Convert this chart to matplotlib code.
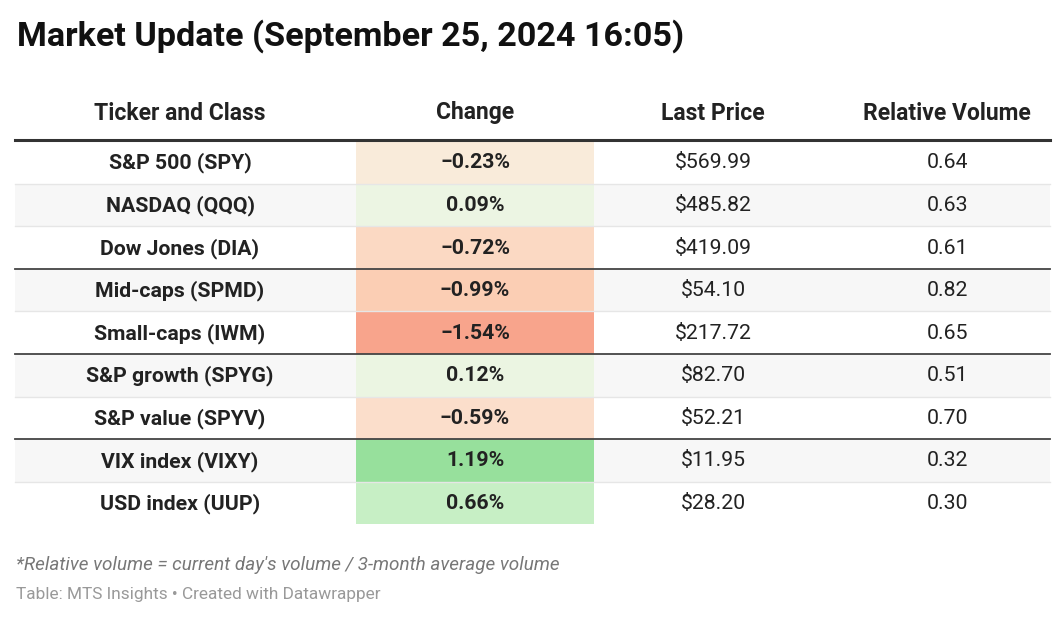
import matplotlib
matplotlib.use("Agg")
import matplotlib.pyplot as plt
from matplotlib.patches import Rectangle
from matplotlib.colors import LinearSegmentedColormap, TwoSlopeNorm

plt.rcParams['font.family'] = ['Roboto', 'DejaVu Sans']

title = "Market Update (September 25, 2024 16:05)"
headers = ["Ticker and Class", "Change", "Last Price", "Relative Volume"]
tickers = ["S&P 500 (SPY)", "NASDAQ (QQQ)", "Dow Jones (DIA)", "Mid-caps (SPMD)",
           "Small-caps (IWM)", "S&P growth (SPYG)", "S&P value (SPYV)",
           "VIX index (VIXY)", "USD index (UUP)"]
change = [-0.23, 0.09, -0.72, -0.99, -1.54, 0.12, -0.59, 1.19, 0.66]
last_price = [569.99, 485.82, 419.09, 54.10, 217.72, 82.70, 52.21, 11.95, 28.20]
rel_volume = [0.64, 0.63, 0.61, 0.82, 0.65, 0.51, 0.70, 0.32, 0.30]
group_ends = [3, 5, 7]
footnote = "*Relative volume = current day's volume / 3-month average volume"
source = "Table: MTS Insights \u2022 Created with Datawrapper"

W, H = 1064, 639
fig = plt.figure(figsize=(W / 100, H / 100), dpi=100)
ax = fig.add_axes([0, 0, 1, 1])
ax.set_xlim(0, W)
ax.set_ylim(H, 0)
ax.axis("off")

cmap = LinearSegmentedColormap.from_list(
    "chg",
    [(0.0, "#f8a48c"), (0.18, "#fbcfb5"), (0.27, "#fbd9c4"), (0.31, "#fbdfcc"),
     (0.425, "#f9ebda"), (0.5, "#f3f2e4"), (0.54, "#ecf5e3"), (0.78, "#c6efc5"),
     (1.0, "#97e09c")])
norm = TwoSlopeNorm(vcenter=0.0, vmin=min(change), vmax=max(change))

left, right = 15, 1050
col_x = [180, 475, 713, 947]
chg_l, chg_r = 356, 594
top = 141
rh = 42.6

ax.text(17, 36, title, fontsize=24.6, fontweight="bold", color="#111111",
        ha="left", va="center")

for x, h in zip(col_x, headers):
    ax.text(x, 119.5, h, fontsize=16.5, fontweight="bold", color="#222222",
            ha="center", va="baseline")

for i in range(len(tickers)):
    y0 = top + i * rh
    yc = y0 + rh / 2 - 1.5
    if i % 2 == 1:
        ax.add_patch(Rectangle((left, y0), right - left, rh, facecolor="#f7f7f7",
                               edgecolor="none", zorder=0))
    ax.add_patch(Rectangle((chg_l, y0), chg_r - chg_l, rh,
                           facecolor=cmap(norm(change[i])), edgecolor="none", zorder=1))
    if (i + 1) in group_ends:
        ax.plot([left, right], [y0 + rh, y0 + rh], color="#444444", lw=1.3, zorder=3)
    elif i < len(tickers) - 1:
        ax.plot([left, right], [y0 + rh, y0 + rh], color="#e6e6e6", lw=1.0, zorder=2)
    ax.text(col_x[0], yc, tickers[i], fontsize=15.3, fontweight="bold", color="#222222",
            ha="center", va="center_baseline", zorder=4)
    c = change[i]
    ctxt = ("\u2212" if c < 0 else "") + f"{abs(c):.2f}%"
    ax.text(col_x[1], yc, ctxt, fontsize=15.3, fontweight="bold", color="#222222",
            ha="center", va="center_baseline", zorder=4)
    ax.text(col_x[2], yc, f"${last_price[i]:,.2f}", fontsize=15.3, color="#222222",
            ha="center", va="center_baseline", zorder=4)
    ax.text(col_x[3], yc, f"{rel_volume[i]:.2f}", fontsize=15.3, color="#222222",
            ha="center", va="center_baseline", zorder=4)

ax.plot([left, right], [140, 140], color="#333333", lw=2.2, zorder=5)

ax.text(16, 565, footnote, fontsize=13.6, style="italic", color="#777777",
        ha="left", va="center")
ax.text(16, 594, source, fontsize=12.4, color="#999999", ha="left", va="center")

fig.savefig("out.png", dpi=100, facecolor="white")
